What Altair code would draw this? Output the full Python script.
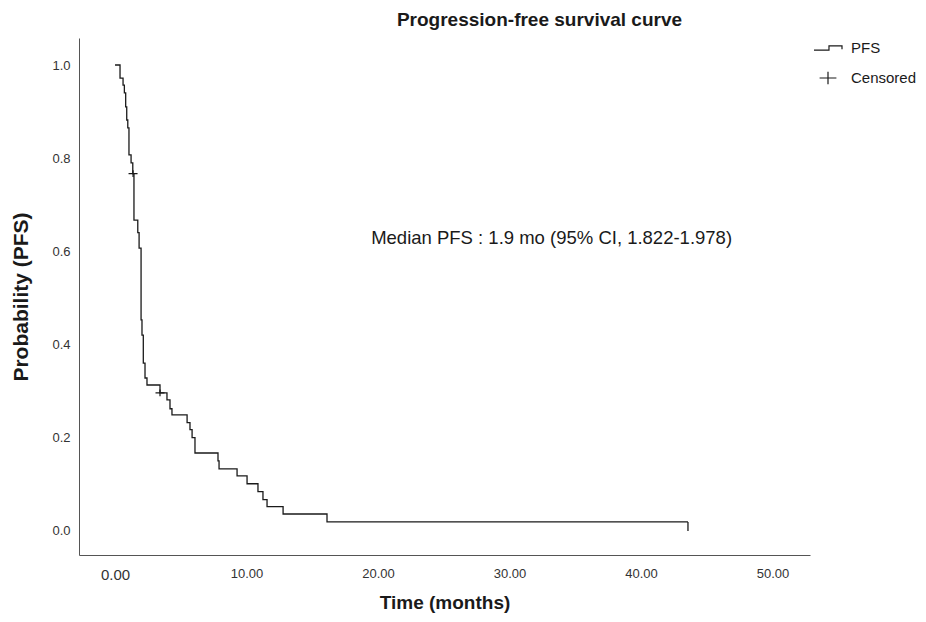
import altair as alt
import pandas as pd

# Kaplan-Meier step curve (time in months, survival probability after each step)
times = [0.0, 0.38, 0.61, 0.71, 0.81, 0.89, 0.97, 1.06, 1.22, 1.35, 1.44, 1.73, 1.83,
         1.98, 2.05, 2.15, 2.28, 2.43, 3.42, 3.95, 4.18, 4.33, 5.48, 5.70, 5.86, 6.08,
         7.83, 7.91, 9.28, 10.04, 10.87, 11.25, 11.56, 12.78, 16.12, 43.57]
surv = [1.0, 0.972, 0.957, 0.94, 0.91, 0.882, 0.865, 0.807, 0.79, 0.767, 0.667, 0.64, 0.607,
        0.453, 0.42, 0.36, 0.328, 0.313, 0.296, 0.281, 0.262, 0.249, 0.232, 0.217, 0.200, 0.167,
        0.150, 0.133, 0.118, 0.101, 0.084, 0.067, 0.052, 0.036, 0.019, 0.019]

censor_times = [1.37, 3.42]
censor_surv = [0.767, 0.296]

end_times = [43.57]
end_surv = [0.019]

note_text = ["Median PFS : 1.9 mo (95% CI, 1.822-1.978)"]
note_x = [33.2]
note_y = [0.629]

x_ticks = [0, 10, 20, 30, 40, 50]
y_ticks = [0.0, 0.2, 0.4, 0.6, 0.8, 1.0]

curve_df = pd.DataFrame({"time": times, "surv": surv})
cens_df = pd.DataFrame({"time": censor_times, "surv": censor_surv,
                        "series": ["Censored"] * len(censor_times)})
end_df = pd.DataFrame({"time": end_times, "surv": end_surv})
note_df = pd.DataFrame({"time": note_x, "surv": note_y, "label": note_text})

FONT = "Liberation Sans"
INK = "#1a1a1a"

xscale = alt.Scale(domain=[-2.74, 52.85], nice=False, zero=False)
yscale = alt.Scale(domain=[-0.052, 1.058], nice=False, zero=False)

x_enc = alt.X("time:Q", scale=xscale,
              axis=alt.Axis(values=x_ticks, format=".2f", title="Time (months)",
                            labelFontSize={"condition": {"test": "datum.value === 0", "value": 15}, "value": 13},
                            labelPadding=12, titlePadding=11, titleFontSize=19))
y_enc = alt.Y("surv:Q", scale=yscale,
              axis=alt.Axis(values=y_ticks, format=".1f", title="Probability (PFS)",
                            labelPadding=9, titlePadding=20))

step_path = "M-1,0.15L0.07,0.15L0.07,-0.15L1,-0.15L1,0.09"
plus_path = "M-0.6,0L0.6,0M0,-0.45L0,0.45"

line = alt.Chart(curve_df).mark_line(interpolate="step-after", color=INK, strokeWidth=1.3).encode(
    x=x_enc, y=y_enc)

censor = alt.Chart(cens_df).mark_point(filled=False, strokeWidth=1.2, size=225, opacity=1, color=INK).encode(
    x="time:Q", y="surv:Q",
    shape=alt.Shape("series:N",
                    scale=alt.Scale(domain=["PFS", "Censored"], range=[step_path, plus_path]),
                    legend=alt.Legend(title=None, orient="none", legendX=734, legendY=-5,
                                      symbolSize=784, symbolStrokeWidth=1.2, symbolStrokeColor=INK,
                                      symbolFillColor="transparent", labelFontSize=15, labelFont=FONT,
                                      labelColor=INK, rowPadding=7, padding=0, labelOffset=8)))

end_tick = alt.Chart(end_df).mark_point(shape="M0,0L0,1", size=324, filled=False, strokeWidth=1.3,
                                        opacity=1, color=INK).encode(x="time:Q", y="surv:Q")

note = alt.Chart(note_df).mark_text(fontSize=18.5, font=FONT, color=INK).encode(
    x="time:Q", y="surv:Q", text="label:N")

chart = alt.layer(line, censor, end_tick, note).properties(
    width=731, height=517,
    autosize=alt.AutoSizeParams(type="none"),
    padding={"left": 71, "top": 30, "right": 108, "bottom": 59},
    title=alt.TitleParams("Progression-free survival curve", font=FONT, fontSize=19,
                          fontWeight="bold", anchor="middle", dx=95, offset=3, color=INK),
).configure_view(strokeWidth=0).configure_axis(
    grid=False, ticks=False, domainColor="#555555", domainWidth=1,
    labelFont=FONT, labelColor="#333333", labelFontSize=13,
    titleFont=FONT, titleFontSize=21, titleFontWeight="bold", titleColor=INK,
)

chart.save("out.html", embed_options={"renderer": "svg", "actions": False})
